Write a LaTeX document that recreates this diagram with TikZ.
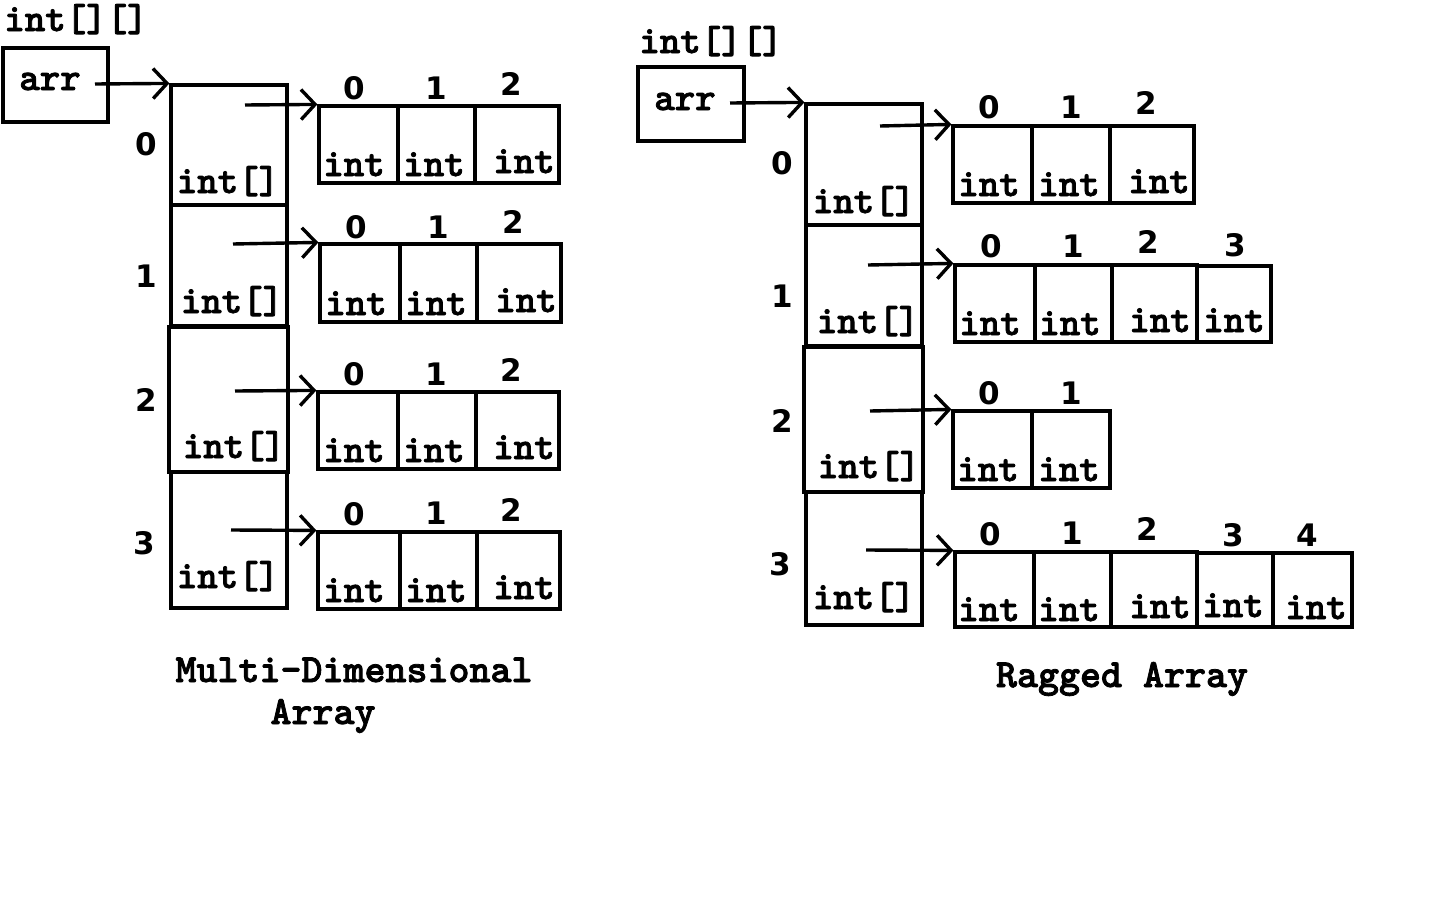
\documentclass[tikz,border=0pt]{standalone}
\usepackage{fontspec}
\newfontfamily\digb{DejaVu Sans Bold}
\IfFontExistsTF{lmmonolt10-bold.otf}
  {\newfontfamily\courb{lmmonolt10-bold.otf}[FakeBold=2]}
  {\newfontfamily\courb{Latin Modern Mono}[FakeBold=3.5]}
\usetikzlibrary{arrows.meta,fit}
\begin{document}
\begin{tikzpicture}[x=0.5pt,y=-0.5pt,
  bx/.style={draw,line width=1.6pt,inner sep=0pt,rectangle},
  thickbx/.style={draw,line width=2.3pt,inner sep=0pt,rectangle},
  ptr/.style={line width=1.7pt,-{Straight Barb[length=7pt,width=15pt,line width=1.7pt]}},
  mono/.style={font=\courb\fontsize{19.5}{22}\selectfont,inner sep=0pt,anchor=base},
  captext/.style={font=\courb\fontsize{20}{23}\selectfont,inner sep=0pt,anchor=base},
  idx/.style={font=\digb\fontsize{15.5}{18}\selectfont,inner sep=0pt}]
\useasboundingbox (0,0) rectangle (1440,900);

% ================= LEFT: multi-dimensional =================
\node[mono] (ltype) at (76,31) {int[][]};
\node[bx,fit={(3,48) (108,122)}] (larr) {};
\node[mono] (larrt) at (50,90) {arr};
\coordinate (lsrc) at (95,84);

\node[bx,fit={(171,85) (287,205)}] (lr0) {};
\node[bx,fit={(171,205) (287,326)}] (lr1) {};
\node[bx,fit={(171,472) (287,608)}] (lr3) {};
\node[thickbx,fit={(169,327) (288,472)}] (lr2) {};
\draw[ptr] (lsrc) -- (lr0.north west);

\node[mono] (lr0t) at (228,193) {int[]};
\node[mono] (lr1t) at (232,313) {int[]};
\node[mono] (lr2t) at (234,458) {int[]};
\node[mono] (lr3t) at (228,588) {int[]};

\node[idx] (li0) at (146,144) {0};
\node[idx] (li1) at (146,276) {1};
\node[idx] (li2) at (146,400) {2};
\node[idx] (li3) at (144,543) {3};

% sub arrays
% row 0
\node[bx,fit={(319,106) (398,183)}] (la0c0) {};
\node[bx,fit={(398,106) (475,183)}] (la0c1) {};
\node[bx,fit={(475,106) (559,183)}] (la0c2) {};
\node[mono] at (354,176) {int};
\node[mono] at (434,176) {int};
\node[mono] at (524,173) {int};
\node[idx] at (354,88) {0};
\node[idx] at (436,88) {1};
\node[idx] at (511,84) {2};
\coordinate (lp0) at (245,105);
\draw[ptr] (lp0) -- (la0c0.north west);
% row 1
\node[bx,fit={(320,244) (400,322)}] (la1c0) {};
\node[bx,fit={(400,244) (477,322)}] (la1c1) {};
\node[bx,fit={(477,244) (561,322)}] (la1c2) {};
\node[mono] at (356,315) {int};
\node[mono] at (436,315) {int};
\node[mono] at (526,312) {int};
\node[idx] at (356,227) {0};
\node[idx] at (438,227) {1};
\node[idx] at (513,222) {2};
\coordinate (lp1) at (233,244);
\draw[ptr] (lp1) -- (la1c0.north west);
% row 2
\node[bx,fit={(318,392) (398,469)}] (la2c0) {};
\node[bx,fit={(398,392) (476,469)}] (la2c1) {};
\node[bx,fit={(476,392) (559,469)}] (la2c2) {};
\node[mono] at (354,462) {int};
\node[mono] at (434,462) {int};
\node[mono] at (524,459) {int};
\node[idx] at (354,374) {0};
\node[idx] at (436,374) {1};
\node[idx] at (511,370) {2};
\coordinate (lp2) at (235,391);
\draw[ptr] (lp2) -- (la2c0.north west);
% row 3
\node[bx,fit={(318,532) (400,609)}] (la3c0) {};
\node[bx,fit={(400,532) (477,609)}] (la3c1) {};
\node[bx,fit={(477,532) (560,609)}] (la3c2) {};
\node[mono] at (354,602) {int};
\node[mono] at (436,602) {int};
\node[mono] at (524,599) {int};
\node[idx] at (354,514) {0};
\node[idx] at (436,513) {1};
\node[idx] at (511,510) {2};
\coordinate (lp3) at (231,530);
\draw[ptr] (lp3) -- (la3c0.north west);

\node[captext] (lcap1) at (354,682) {Multi-Dimensional};
\node[captext] (lcap2) at (323,724) {Array};

% ================= RIGHT: ragged =================
\node[mono] (rtype) at (711,53) {int[][]};
\node[bx,fit={(638,67) (744,141)}] (rarr) {};
\node[mono] (rarrt) at (685,110) {arr};
\coordinate (rsrc) at (730,103);

\node[bx,fit={(806,104) (922,225)}] (rr0) {};
\node[bx,fit={(806,225) (922,346)}] (rr1) {};
\node[bx,fit={(806,492) (922,625)}] (rr3) {};
\node[thickbx,fit={(804,347) (923,492)}] (rr2) {};
\draw[ptr] (rsrc) -- (rr0.north west);

\node[mono] (rr0t) at (864,213) {int[]};
\node[mono] (rr1t) at (868,333) {int[]};
\node[mono] (rr2t) at (869,478) {int[]};
\node[mono] (rr3t) at (864,609) {int[]};

\node[idx] (ri0) at (782,163) {0};
\node[idx] (ri1) at (782,296) {1};
\node[idx] (ri2) at (782,421) {2};
\node[idx] (ri3) at (780,564) {3};

% row 0
\node[bx,fit={(953,126) (1032,203)}] (ra0c0) {};
\node[bx,fit={(1032,126) (1110,203)}] (ra0c1) {};
\node[bx,fit={(1110,126) (1194,203)}] (ra0c2) {};
\node[mono] at (989,196) {int};
\node[mono] at (1069,196) {int};
\node[mono] at (1159,193) {int};
\node[idx] at (989,107) {0};
\node[idx] at (1071,107) {1};
\node[idx] at (1146,103) {2};
\coordinate (rp0) at (880,126);
\draw[ptr] (rp0) -- (ra0c0.north west);
% row 1
\node[bx,fit={(955,265) (1035,342)}] (ra1c0) {};
\node[bx,fit={(1035,265) (1112,342)}] (ra1c1) {};
\node[bx,fit={(1112,265) (1197,342)}] (ra1c2) {};
\node[bx,fit={(1197,266) (1271,342)}] (ra1c3) {};
\node[mono] at (990,335) {int};
\node[mono] at (1070,335) {int};
\node[mono] at (1160,332) {int};
\node[mono] at (1234,332) {int};
\node[idx] at (991,246) {0};
\node[idx] at (1073,246) {1};
\node[idx] at (1148,242) {2};
\node[idx] at (1235,245) {3};
\coordinate (rp1) at (868,265);
\draw[ptr] (rp1) -- (ra1c0.north west);
% row 2
\node[bx,fit={(953,411) (1032,488)}] (ra2c0) {};
\node[bx,fit={(1032,411) (1110,488)}] (ra2c1) {};
\node[mono] at (988,481) {int};
\node[mono] at (1069,481) {int};
\node[idx] at (989,393) {0};
\node[idx] at (1071,393) {1};
\coordinate (rp2) at (870,411);
\draw[ptr] (rp2) -- (ra2c0.north west);
% row 3
\node[bx,fit={(955,552) (1034,627)}] (ra3c0) {};
\node[bx,fit={(1034,552) (1111,627)}] (ra3c1) {};
\node[bx,fit={(1111,552) (1197,627)}] (ra3c2) {};
\node[bx,fit={(1197,553) (1273,627)}] (ra3c3) {};
\node[bx,fit={(1273,553) (1352,627)}] (ra3c4) {};
\node[mono] at (989,621) {int};
\node[mono] at (1069,621) {int};
\node[mono] at (1160,618) {int};
\node[mono] at (1233,617) {int};
\node[mono] at (1316,619) {int};
\node[idx] at (990,534) {0};
\node[idx] at (1072,533) {1};
\node[idx] at (1147,529) {2};
\node[idx] at (1233,535) {3};
\node[idx] at (1307,535) {4};
\coordinate (rp3) at (866,550);
\draw[ptr] (rp3) -- (ra3c0.north west);

\node[captext] (rcap) at (1122,687) {Ragged Array};
\end{tikzpicture}
\end{document}
